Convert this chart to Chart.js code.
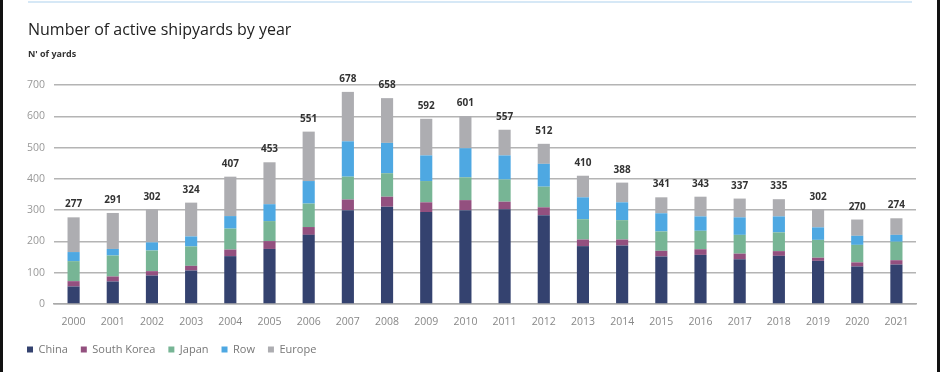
<!DOCTYPE html>
<html>
<head>
<meta charset="utf-8">
<script src="https://cdn.jsdelivr.net/npm/chart.js@4.4.1/dist/chart.umd.min.js"></script>
<style>
  html, body { margin: 0; padding: 0; background: #fff; }
  #wrap { position: relative; width: 940px; height: 372px; overflow: hidden; }
  #wrap canvas { position: absolute; left: 0; top: 0; }
  .edge-l { position: absolute; left: 0; top: 0; width: 3px; height: 372px; background: #111; }
  .edge-r { position: absolute; right: 0; top: 0; width: 3px; height: 372px; background: #111; }
  .topline { position: absolute; left: 28px; top: 1px; width: 884px; height: 2px; background: #d6e8f6; }
  .title { position: absolute; left: 28px; top: 18px; font: 500 16px "Open Sans", sans-serif; color: #222; }
  .subtitle { position: absolute; left: 28px; top: 47px; font: bold 9px "Open Sans", sans-serif; color: #333; }
</style>
</head>
<body>
<div id="wrap">
  <canvas id="shipyardChart" width="940" height="372"></canvas>
  <div class="topline"></div>
  <div class="edge-l"></div>
  <div class="edge-r"></div>
  <div class="title">Number of active shipyards by year</div>
  <div class="subtitle">N' of yards</div>
</div>
<script>
// Years on the x axis
const years = ['2000','2001','2002','2003','2004','2005','2006','2007','2008','2009','2010',
               '2011','2012','2013','2014','2015','2016','2017','2018','2019','2020','2021'];

// Yards per region
const china      = [56, 72, 91, 107, 153, 176, 221, 300, 311, 294, 300, 303, 284, 185, 187, 152, 157, 143, 154, 138, 120, 126];
const southKorea = [17, 16, 14, 15, 21, 25, 25, 34, 32, 31, 32, 24, 25, 21, 19, 18, 18, 18, 15, 10, 13, 14];
const japan      = [64, 67, 66, 62, 67, 64, 75, 73, 75, 68, 73, 71, 66, 65, 62, 62, 59, 60, 60, 57, 56, 59];
const row        = [29, 21, 26, 32, 40, 54, 72, 113, 97, 82, 93, 77, 73, 70, 57, 58, 46, 56, 51, 40, 29, 22];
const europe     = [111, 115, 105, 108, 126, 134, 158, 158, 143, 117, 103, 82, 64, 69, 63, 51, 63, 60, 55, 57, 52, 53];

// Y axis ticks
const yTicks = [0, 100, 200, 300, 400, 500, 600, 700];

// Draw the total on top of each stack
const totalsPlugin = {
    id: 'totals',
    afterDatasetsDraw(chart) {
        const ctx = chart.ctx;
        const xScale = chart.scales.x;
        const yScale = chart.scales.y;
        ctx.save();
        ctx.font = 'bold 10px "Open Sans", sans-serif';
        ctx.fillStyle = '#333';
        ctx.textAlign = 'center';
        ctx.textBaseline = 'alphabetic';
        years.forEach((year, i) => {
            let total = 0;
            chart.data.datasets.forEach(ds => { total += ds.data[i]; });
            const x = xScale.getPixelForValue(i);
            const y = yScale.getPixelForValue(total) - 10;
            ctx.fillText(String(total), x, y);
        });
        ctx.restore();
    }
};

const ctx = document.getElementById('shipyardChart').getContext('2d');
new Chart(ctx, {
    type: 'bar',
    data: {
        labels: years,
        datasets: [
            { label: 'China', data: china, backgroundColor: '#34426f' },
            { label: 'South Korea', data: southKorea, backgroundColor: '#93507f' },
            { label: 'Japan', data: japan, backgroundColor: '#77b595' },
            { label: 'Row', data: row, backgroundColor: '#4ea8e2' },
            { label: 'Europe', data: europe, backgroundColor: '#adadb1' }
        ]
    },
    options: {
        responsive: false,
        animation: false,
        layout: { padding: { left: 14, right: 24, top: 85, bottom: 7 } },
        datasets: {
            bar: { barPercentage: 0.31, categoryPercentage: 1, borderWidth: 0 }
        },
        scales: {
            x: {
                stacked: true,
                grid: { display: false },
                border: { display: true, color: '#aaa', width: 1.5 },
                ticks: { color: '#888', font: { family: 'Open Sans', size: 10.5 }, padding: 4, maxRotation: 0 },
                afterFit(scale) { scale.height = 27; }
            },
            y: {
                stacked: true,
                min: 0,
                max: 700,
                afterBuildTicks(scale) { scale.ticks = yTicks.map(v => ({ value: v })); },
                grid: { color: '#b4b4b4', lineWidth: 1.5, drawTicks: false },
                border: { display: false },
                ticks: { color: '#999', font: { family: 'Open Sans', size: 10.5 }, padding: 9 },
                afterFit(scale) { scale.width = 40; }
            }
        },
        plugins: {
            legend: {
                position: 'bottom',
                align: 'start',
                labels: {
                    boxWidth: 6,
                    boxHeight: 6,
                    padding: 13,
                    color: '#777',
                    font: { family: 'Open Sans', size: 11 }
                }
            },
            tooltip: { enabled: false }
        }
    },
    plugins: [totalsPlugin]
});
</script>
</body>
</html>
